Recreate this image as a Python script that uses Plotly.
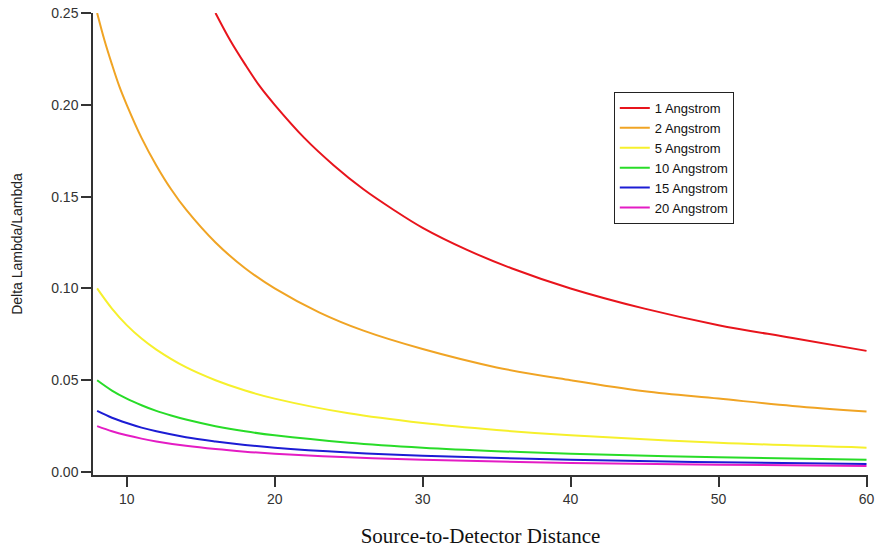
import plotly.graph_objects as go

# Wavelength resolution vs. source-to-detector distance, one curve per wavelength
labels = ["1 Angstrom", "2 Angstrom", "5 Angstrom", "10 Angstrom", "15 Angstrom", "20 Angstrom"]
colors = ["#e8141c", "#f0a424", "#f6f02c", "#28dc28", "#1c1cd4", "#e41cc4"]

dist_1 = [16, 17, 18, 19, 20, 22, 24, 26, 28, 30, 33, 36, 40, 45, 50, 55, 60]
vals_1 = [0.250, 0.235, 0.222, 0.210, 0.200, 0.182, 0.167, 0.154, 0.143, 0.133, 0.121, 0.111,
          0.100, 0.089, 0.080, 0.073, 0.066]

dist_2 = [8, 8.5, 9, 9.5, 10, 11, 12, 13, 14, 16, 18, 20, 23, 26, 30, 35, 40, 45, 50, 55, 60]
vals_2 = [0.250, 0.235, 0.222, 0.210, 0.200, 0.182, 0.167, 0.154, 0.143, 0.125, 0.111, 0.100,
          0.087, 0.077, 0.067, 0.057, 0.050, 0.044, 0.040, 0.036, 0.033]

dist_5 = [8, 9, 10, 11, 12, 14, 16, 18, 20, 25, 30, 35, 40, 50, 60]
vals_5 = [0.100, 0.089, 0.080, 0.0727, 0.0667, 0.0571, 0.050, 0.0444, 0.040, 0.032, 0.0267,
          0.0229, 0.020, 0.016, 0.0133]

dist_10 = [8, 9, 10, 11, 12, 13, 14, 16, 18, 20, 25, 30, 35, 40, 50, 60]
vals_10 = [0.050, 0.0444, 0.040, 0.0364, 0.0333, 0.0308, 0.0286, 0.025, 0.0222, 0.020, 0.016,
           0.0133, 0.0114, 0.010, 0.008, 0.0067]

dist_15 = [8, 9, 10, 11, 12, 14, 16, 18, 20, 25, 30, 40, 50, 60]
vals_15 = [0.0333, 0.0296, 0.0267, 0.0242, 0.0222, 0.019, 0.0167, 0.0148, 0.0133, 0.0107,
           0.0089, 0.0067, 0.0053, 0.0044]

dist_20 = [8, 9, 10, 11, 12, 14, 16, 18, 20, 25, 30, 40, 50, 60]
vals_20 = [0.025, 0.0222, 0.020, 0.0182, 0.0167, 0.0143, 0.0125, 0.0111, 0.010, 0.008, 0.0067,
           0.005, 0.004, 0.0033]

series = [(dist_1, vals_1), (dist_2, vals_2), (dist_5, vals_5),
          (dist_10, vals_10), (dist_15, vals_15), (dist_20, vals_20)]

x_ticks = [10, 20, 30, 40, 50, 60]
y_ticks = [0.00, 0.05, 0.10, 0.15, 0.20, 0.25]

fig = go.Figure()
for (xs, ys), name, col in zip(series, labels, colors):
    fig.add_trace(go.Scatter(x=xs, y=ys, mode="lines", name=name,
                             line=dict(color=col, width=2, shape="spline", smoothing=1.0)))

axis_common = dict(showline=True, linecolor="#333333", linewidth=1.5,
                   ticks="outside", ticklen=10, tickwidth=1.5, tickcolor="#333333",
                   showgrid=False, zeroline=False, automargin=False,
                   tickfont=dict(family="Arial, Liberation Sans", size=14, color="#333333"))

fig.update_layout(
    width=880, height=550,
    margin=dict(l=93, r=12, t=13, b=75),
    paper_bgcolor="white", plot_bgcolor="white",
    xaxis=dict(range=[7.72, 60.1], tickvals=x_ticks, ticktext=[str(v) for v in x_ticks],
               title=dict(text="Source-to-Detector Distance",
                          font=dict(family="Liberation Serif, Times New Roman", size=21, color="#111111"),
                          standoff=23),
               **axis_common),
    yaxis=dict(range=[-0.0016, 0.25], tickvals=y_ticks, ticktext=[f"{v:.2f}" for v in y_ticks],
               title=dict(text="Delta Lambda/Lambda",
                          font=dict(family="Arial, Liberation Sans", size=14, color="#222222"),
                          standoff=25),
               **axis_common),
    legend=dict(x=0.672, y=0.829, xanchor="left", yanchor="top",
                bgcolor="white", bordercolor="#222222", borderwidth=1,
                font=dict(family="Arial, Liberation Sans", size=13, color="#111111"),
                itemwidth=30, tracegroupgap=0),
    showlegend=True,
)

fig.write_html("out.html")
